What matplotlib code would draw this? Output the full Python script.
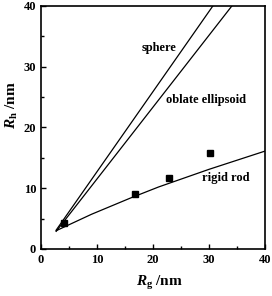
from matplotlib import pyplot as plt
import numpy as np

# measured data
rg_data = [4.1, 16.8, 22.8, 30.2]
rh_data = [4.2, 9.1, 11.7, 15.75]

# model curves
sphere_rg = [2.7, 30.7]
sphere_rh = [3.1, 40.0]
oblate_rg = [2.7, 34.1]
oblate_rh = [2.9, 40.0]
rod_rg = [2.7, 9.0, 15.9, 21.0, 30.0, 40.0]
rod_rh = [3.0, 5.7, 8.35, 10.2, 13.1, 16.1]

plt.rcParams['font.family'] = 'Liberation Serif'
plt.rcParams['font.weight'] = 'bold'
plt.rcParams['mathtext.fontset'] = 'custom'
plt.rcParams['mathtext.rm'] = 'Liberation Serif:bold'
plt.rcParams['mathtext.it'] = 'Liberation Serif:bold:italic'
plt.rcParams['mathtext.bf'] = 'Liberation Serif:bold'

fig = plt.figure(figsize=(2.72, 2.96), dpi=100)
ax = fig.add_axes([0.151, 0.159, 0.823, 0.821])

ax.plot(sphere_rg, sphere_rh, color='k', lw=0.9)
ax.plot(oblate_rg, oblate_rh, color='k', lw=0.9)
ax.plot(rod_rg, rod_rh, color='k', lw=0.9)
ax.plot(rg_data, rh_data, 's', color='k', ms=5)

ax.text(21.1, 33.1, 'sphere', ha='center', va='center', fontsize=9, fontweight='bold')
ax.text(29.4, 24.5, 'oblate ellipsoid', ha='center', va='center', fontsize=9, fontweight='bold')
ax.text(33.0, 11.7, 'rigid rod', ha='center', va='center', fontsize=9, fontweight='bold')

ax.set_xlim(0, 40)
ax.set_ylim(0, 40)
ax.set_xticks([0, 10, 20, 30, 40])
ax.set_yticks([0, 10, 20, 30, 40])
ax.set_xticks([5, 15, 25, 35], minor=True)
ax.set_yticks([5, 15, 25, 35], minor=True)
ax.tick_params(which='both', direction='in', top=False, right=False, labelsize=9, width=1)
ax.tick_params(which='major', length=3.5)
ax.tick_params(which='minor', length=2)
for lbl in ax.get_xticklabels() + ax.get_yticklabels():
    lbl.set_fontweight('bold')
for sp in ax.spines.values():
    sp.set_linewidth(1.2)

ax.set_xlabel(r'$R_\mathrm{g}$ /nm', fontsize=11, fontweight='bold')
ax.set_ylabel(r'$R_\mathrm{h}$ /nm', fontsize=11, fontweight='bold')
ax.xaxis.set_label_coords(0.53, -0.105)
ax.yaxis.set_label_coords(-0.095, 0.59)

fig.savefig('out.png', dpi=100)
